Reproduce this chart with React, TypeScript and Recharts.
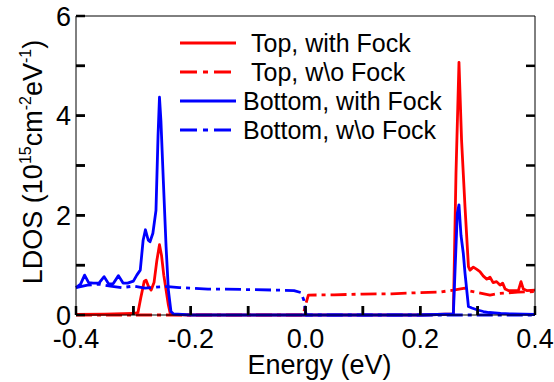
import React from 'react';
import { LineChart, Line, XAxis, YAxis, Legend, ReferenceLine } from 'recharts';

// ---------- data ----------
const seriesNames = ['Top, with Fock', 'Top, w\\o Fock', 'Bottom, with Fock', 'Bottom, w\\o Fock'];

const topWithE = [
  -0.4, -0.35, -0.3, -0.292, -0.287, -0.281, -0.278, -0.274, -0.269, -0.264, -0.259, -0.2545, -0.251,
  -0.247, -0.243, -0.239, -0.236, -0.23, -0.2, 0.0, 0.2, 0.2577, 0.2623, 0.2675, 0.272, 0.278, 0.284,
  0.2867, 0.2925, 0.298, 0.304, 0.31, 0.316, 0.3216, 0.327, 0.333, 0.339, 0.3436, 0.348, 0.3535, 0.371,
  0.3756, 0.3797, 0.3855, 0.4,
];
const topWithLDOS = [
  0.01, 0.015, 0.03, 0.05, 0.35, 0.68, 0.7, 0.58, 0.5, 0.65, 1.1, 1.41, 1.2,
  0.8, 0.5, 0.2, 0.04, 0.01, 0.0, 0.0, 0.0, 0.02, 2.85, 5.07, 3.51, 2.17, 0.97,
  0.9, 0.96, 0.92, 0.87, 0.78, 0.72, 0.76, 0.65, 0.67, 0.6, 0.64, 0.52, 0.49, 0.49,
  0.67, 0.52, 0.49, 0.5,
];

const topWithoutE = [-0.4, -0.004, 0.0, 0.005, 0.05, 0.1, 0.15, 0.2, 0.234, 0.2577, 0.278, 0.287, 0.3216, 0.335, 0.37, 0.4];
const topWithoutLDOS = [0.0, 0.0, 0.2, 0.4, 0.405, 0.42, 0.425, 0.45, 0.46, 0.5, 0.54, 0.48, 0.4, 0.43, 0.46, 0.47];

const bottomWithE = [
  -0.4, -0.392, -0.385, -0.378, -0.37, -0.36, -0.351, -0.343, -0.335, -0.326, -0.318, -0.31, -0.3, -0.294,
  -0.288, -0.283, -0.279, -0.274, -0.271, -0.266, -0.2606, -0.257, -0.2545, -0.252, -0.2478, -0.243, -0.239,
  -0.2345, -0.23, -0.2, 0.0, 0.2, 0.2577, 0.261, 0.2646, 0.2675, 0.271, 0.275, 0.278, 0.284, 0.29, 0.3,
  0.31, 0.32, 0.34, 0.36, 0.4,
];
const bottomWithLDOS = [
  0.55, 0.62, 0.8, 0.65, 0.64, 0.64, 0.77, 0.62, 0.63, 0.79, 0.64, 0.64, 0.68, 0.8,
  0.9, 1.5, 1.71, 1.5, 1.47, 1.64, 2.1, 3.6, 4.37, 3.9, 2.7, 1.37, 0.5,
  0.07, 0.02, 0.0, 0.0, 0.0, 0.02, 1.0, 2.04, 2.21, 1.6, 1.24, 0.84, 0.17, 0.14, 0.1,
  0.07, 0.05, 0.03, 0.02, 0.01,
];

const bottomWithoutE = [
  -0.4, -0.38, -0.36, -0.34, -0.32, -0.3, -0.28, -0.26, -0.24, -0.22, -0.2, -0.17, -0.14, -0.1, -0.05,
  -0.02, -0.008, -0.003, 0.001, 0.4,
];
const bottomWithoutLDOS = [
  0.55, 0.6, 0.62, 0.58, 0.55, 0.58, 0.54, 0.56, 0.57, 0.55, 0.54, 0.52, 0.52, 0.51, 0.5,
  0.49, 0.45, 0.3, 0.0, 0.0,
];

const xTicks = [-0.4, -0.3, -0.2, -0.1, 0, 0.1, 0.2, 0.3, 0.4];
const yTicks = [0, 1, 2, 3, 4, 5, 6];

// ---------- helpers ----------
const toPoints = (e: number[], v: number[]) => e.map((x, i) => ({ e: x, v: v[i] }));

const RED = '#ff0000';
const BLUE = '#0000ff';
const DASHDOT = '16 5 4 5';
const FONT = '"Liberation Sans", Arial, sans-serif';
const X_MARGIN = 14;
const Y_MARGIN = 5;
const TICK_PX = 9;

// plot geometry (used only to express the inward tick length in data units)
const PLOT_W = 459;
const PLOT_H = 299;
const X_MIN = xTicks[0];
const X_MAX = xTicks[xTicks.length - 1];
const Y_MIN = yTicks[0];
const Y_MAX = yTicks[yTicks.length - 1];
const tickDx = (TICK_PX * (X_MAX - X_MIN)) / PLOT_W;
const tickDy = (TICK_PX * (Y_MAX - Y_MIN)) / PLOT_H;

const series = [
  { name: seriesNames[0], data: toPoints(topWithE, topWithLDOS), color: RED, dash: undefined as string | undefined },
  { name: seriesNames[1], data: toPoints(topWithoutE, topWithoutLDOS), color: RED, dash: DASHDOT },
  { name: seriesNames[2], data: toPoints(bottomWithE, bottomWithLDOS), color: BLUE, dash: undefined as string | undefined },
  { name: seriesNames[3], data: toPoints(bottomWithoutE, bottomWithoutLDOS), color: BLUE, dash: DASHDOT },
];

const xFmt = (v: number) => (Math.round(v * 10) % 2 === 0 ? v.toFixed(1) : '');
const yFmt = (v: number) => (v % 2 === 0 ? String(v) : '');
const Empty = () => <g />;

const XTick = (props: any) => {
  const { x, y, payload } = props;
  const label = xFmt(payload.value);
  const axisY = y - X_MARGIN;
  return (
    <g>
      <line x1={x} x2={x} y1={axisY} y2={axisY - TICK_PX} stroke="#000" strokeWidth={2.5} />
      {label ? (
        <text x={x} y={y} dy="0.71em" textAnchor="middle" fontSize={27} fontFamily={FONT} fill="#000">
          {label}
        </text>
      ) : null}
    </g>
  );
};

const YTick = (props: any) => {
  const { x, y, payload } = props;
  const label = yFmt(payload.value);
  const axisX = x + Y_MARGIN;
  return (
    <g>
      <line x1={axisX} x2={axisX + TICK_PX} y1={y} y2={y} stroke="#000" strokeWidth={2.5} />
      {label ? (
        <text x={x} y={y} dy="0.355em" textAnchor="end" fontSize={27} fontFamily={FONT} fill="#000">
          {label}
        </text>
      ) : null}
    </g>
  );
};

const renderLegend = () => (
  <svg width={300} height={130} style={{ pointerEvents: 'none', display: 'block' }}>
    {series.map((s, i) => {
      const cy = 18 + i * 29;
      const tx = s.name.startsWith('Top') ? 76 : 68;
      return (
        <g key={s.name}>
          <line x1={5} x2={61} y1={cy} y2={cy} stroke={s.color} strokeWidth={3} strokeDasharray={s.dash ? '17 6 5 6' : undefined} />
          <text x={tx} y={cy} dy="0.36em" fontSize={25} fontFamily={FONT} fill="#000">
            {s.name}
          </text>
        </g>
      );
    })}
  </svg>
);

const YLabel = () => (
  <text transform="rotate(-90)" x={-162} y={42} textAnchor="middle" fontSize={27} fontFamily={FONT} fill="#000">
    LDOS (10
    <tspan dy={-11} fontSize={16}>15</tspan>
    <tspan dy={11}>cm</tspan>
    <tspan dy={-11} fontSize={16}>-2</tspan>
    <tspan dy={11}>eV</tspan>
    <tspan dy={-11} fontSize={16}>-1</tspan>
    <tspan dy={11}>)</tspan>
  </text>
);

export default function App() {
  return (
    <div style={{ position: 'absolute', left: 0, top: 0 }}>
      <LineChart width={554} height={382} margin={{ top: 16, right: 19, left: 0, bottom: 0 }}>
        <XAxis
          dataKey="e"
          type="number"
          domain={[X_MIN, X_MAX]}
          ticks={xTicks}
          height={67}
          tickSize={0}
          tickMargin={X_MARGIN}
          tickLine={false}
          stroke="#000"
          tick={XTick}
          label={{
            value: 'Energy (eV)',
            position: 'insideBottom',
            offset: 8,
            dx: 14,
            fill: '#000',
            fontSize: 27,
            fontFamily: FONT,
          }}
        />
        <XAxis
          xAxisId="top"
          dataKey="e"
          type="number"
          orientation="top"
          mirror
          domain={[X_MIN, X_MAX]}
          ticks={xTicks}
          tick={Empty}
          tickLine={false}
          stroke="#000"
        />
        <YAxis
          type="number"
          domain={[Y_MIN, Y_MAX]}
          ticks={yTicks}
          width={76}
          tickSize={0}
          tickMargin={Y_MARGIN}
          tickLine={false}
          stroke="#000"
          tick={YTick}
          label={YLabel}
        />
        <YAxis
          yAxisId="right"
          orientation="right"
          mirror
          type="number"
          domain={[Y_MIN, Y_MAX]}
          ticks={yTicks}
          tick={Empty}
          tickLine={false}
          stroke="#000"
        />
        {xTicks.slice(1, -1).map((t) => (
          <ReferenceLine
            key={`xt${t}`}
            segment={[{ x: t, y: Y_MIN }, { x: t, y: Y_MIN + tickDy }]}
            stroke="#000"
            strokeWidth={2.5}
          />
        ))}
        {yTicks.slice(1, -1).map((t) => (
          <ReferenceLine
            key={`yl${t}`}
            segment={[{ x: X_MIN, y: t }, { x: X_MIN + tickDx, y: t }]}
            stroke="#000"
            strokeWidth={2.5}
          />
        ))}
        {yTicks.slice(1, -1).map((t) => (
          <ReferenceLine
            key={`yr${t}`}
            segment={[{ x: X_MAX - tickDx, y: t }, { x: X_MAX, y: t }]}
            stroke="#000"
            strokeWidth={2.5}
          />
        ))}
        {series.map((s) => (
          <Line
            key={s.name}
            data={s.data}
            dataKey="v"
            name={s.name}
            type="linear"
            stroke={s.color}
            strokeWidth={2.8}
            strokeDasharray={s.dash}
            strokeLinejoin="round"
            dot={false}
            activeDot={false}
            isAnimationActive={false}
          />
        ))}
        <Legend
          layout="horizontal"
          verticalAlign="middle"
          align="center"
          content={renderLegend}
          wrapperStyle={{ position: 'absolute', left: 175, top: 25, width: 300, height: 130, pointerEvents: 'none' }}
        />
      </LineChart>
    </div>
  );
}
